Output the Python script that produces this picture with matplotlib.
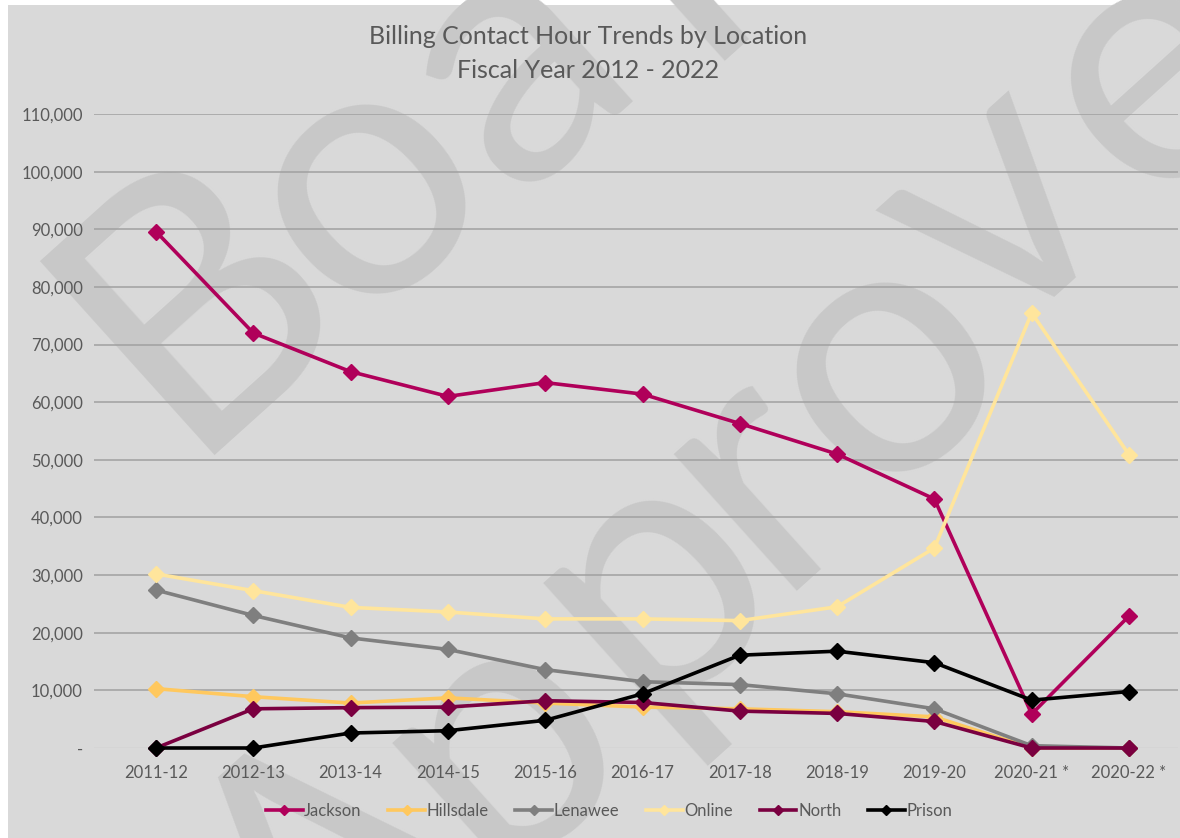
import matplotlib
matplotlib.use("Agg")
import matplotlib.pyplot as plt
from matplotlib.patches import Rectangle
from matplotlib.ticker import FuncFormatter

categories = ["2011-12", "2012-13", "2013-14", "2014-15", "2015-16", "2016-17",
              "2017-18", "2018-19", "2019-20", "2020-21 *", "2020-22 *"]
jackson = [89600, 72000, 65300, 61000, 63400, 61400, 56300, 51000, 43200, 5900, 22900]
hillsdale = [10300, 8900, 7800, 8700, 7800, 7100, 6800, 6300, 5400, 0, 0]
lenawee = [27400, 23000, 19100, 17100, 13600, 11500, 11000, 9400, 6800, 400, 0]
online = [30200, 27300, 24400, 23600, 22400, 22400, 22100, 24500, 34700, 75500, 50900]
north = [0, 6800, 7000, 7100, 8200, 7900, 6400, 6000, 4600, 0, 0]
prison = [0, 0, 2600, 3000, 4800, 9400, 16100, 16800, 14800, 8300, 9800]

series = [("Jackson", jackson, "#B0005A"),
          ("Hillsdale", hillsdale, "#FFC85E"),
          ("Lenawee", lenawee, "#7F7F7F"),
          ("Online", online, "#FFE59C"),
          ("North", north, "#7A0040"),
          ("Prison", prison, "#000000")]
y_ticks = list(range(0, 110001, 10000))

# watermark letters (text, approx centre in pixels)
wm_letters = [("B", 200, 300), ("o", 361, 180), ("a", 512, 62), ("r", 680, -60),
              ("A", 337, 881), ("p", 497, 735), ("p", 648, 575), ("r", 752, 470),
              ("o", 880, 358), ("v", 996, 208), ("e", 1150, 70), ("d", 1290, -70)]

FONT = ["Lato", "DejaVu Sans"]
TXT = "#595959"
W, H = 1180, 838
fig = plt.figure(figsize=(W / 100, H / 100), dpi=100, facecolor="white")

# background panel
fig.patches.append(Rectangle((8 / W, 0), 1 - 8 / W, 1 - 5 / H, transform=fig.transFigure,
                             facecolor="#D9D9D9", edgecolor="none", zorder=-3))
# watermark
for ch, px, py in wm_letters:
    fig.text(px / W, 1 - py / H, ch, color="#C8C8C8", fontsize=262, family=FONT,
             rotation=42, rotation_mode="anchor", ha="center", va="center", zorder=-2)

ax = fig.add_axes([94 / W, 1 - 748 / H, (1178 - 94) / W, (748 - 114) / H])
ax.set_facecolor("none")
x = list(range(len(categories)))
for name, vals, col in series:
    ax.plot(x, vals, color=col, lw=2.6, marker="D", markersize=8, label=name,
            clip_on=False, zorder=3)

ax.set_ylim(0, 110000)
ax.set_xlim((94 - 156) / 97.3, (1178 - 156) / 97.3)
ax.set_yticks(y_ticks)
ax.yaxis.set_major_formatter(FuncFormatter(lambda v, p: "-" if v == 0 else f"{int(v):,}"))
ax.set_xticks(x)
ax.set_xticklabels(categories)
for yv in y_ticks[1:]:
    ax.axhline(yv, color="#A0A0A0", lw=1.1, zorder=1)
ax.axhline(0, color="#C6C6C6", lw=1.0, zorder=1)
for s in ax.spines.values():
    s.set_visible(False)
ax.tick_params(length=0, labelsize=12, labelcolor=TXT, pad=8)
ax.tick_params(axis="x", pad=12)
for lab in ax.get_xticklabels() + ax.get_yticklabels():
    lab.set_family(FONT)

fig.text(588 / W, 1 - 36 / H, "Billing Contact Hour Trends by Location",
         ha="center", va="center", fontsize=18, color=TXT, family=FONT)
fig.text(588 / W, 1 - 70 / H, "Fiscal Year 2012 - 2022",
         ha="center", va="center", fontsize=18, color=TXT, family=FONT)

leg = fig.legend(loc="center", bbox_to_anchor=(609 / W, 1 - 811 / H), ncol=6,
                 frameon=False, handlelength=2.2, handletextpad=0.1, columnspacing=1.6,
                 prop={"family": FONT, "size": 12}, markerscale=0.7)
for t in leg.get_texts():
    t.set_color(TXT)

fig.savefig("out.png", dpi=100, facecolor="white")
